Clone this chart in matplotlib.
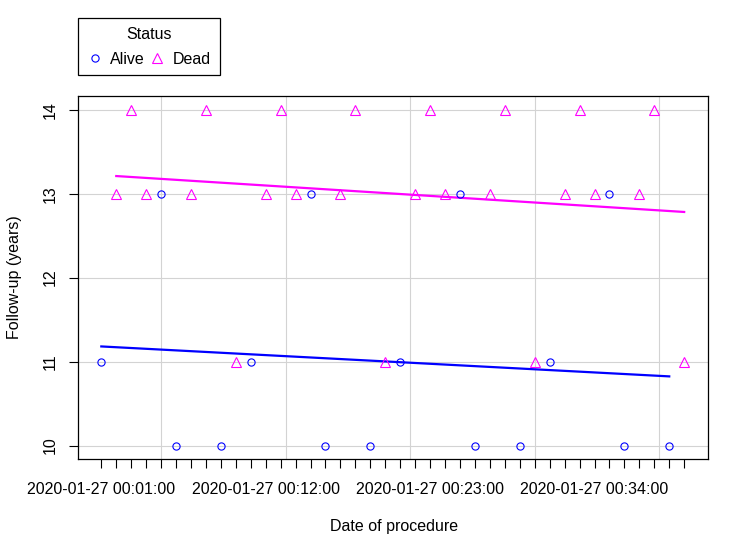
import numpy as np
import pandas as pd
import matplotlib
matplotlib.use('Agg')
from matplotlib import pyplot as plt
from matplotlib.lines import Line2D

plt.rcParams['font.family'] = ['Liberation Sans', 'DejaVu Sans']

# one procedure per minute
proc_time = pd.date_range('2020-01-27 00:01:00', periods=40, freq='min')

followup = [11, 13, 14, 13, 13, 10, 13, 14, 10, 11,
            11, 13, 14, 13, 13, 10, 13, 14, 10, 11,
            11, 13, 14, 13, 13, 10, 13, 14, 10, 11,
            11, 13, 14, 13, 13, 10, 13, 14, 10, 11]  # years

status = ['Alive', 'Dead', 'Dead', 'Dead', 'Alive', 'Alive', 'Dead', 'Dead', 'Alive', 'Dead',
          'Alive', 'Dead', 'Dead', 'Dead', 'Alive', 'Alive', 'Dead', 'Dead', 'Alive', 'Dead',
          'Alive', 'Dead', 'Dead', 'Dead', 'Alive', 'Alive', 'Dead', 'Dead', 'Alive', 'Dead',
          'Alive', 'Dead', 'Dead', 'Dead', 'Alive', 'Alive', 'Dead', 'Dead', 'Alive', 'Dead']

label_idx = [0, 11, 22, 33]          # which ticks get a date label
grid_sec = [300, 800, 1300, 1800, 2300]  # pretty() grid positions, seconds after midnight

df = pd.DataFrame({'time': proc_time, 'fu': followup, 'status': status})
# minutes after midnight, numeric x
df['x'] = (df['time'] - df['time'].dt.normalize()).dt.total_seconds() / 60.

cols = {'Alive': '#0000FF', 'Dead': '#FF00FF'}
marks = {'Alive': 'o', 'Dead': '^'}
msize = {'Alive': 5.2, 'Dead': 7.2}

fig = plt.figure(figsize=(7.48, 5.57), dpi=100)
ax = fig.add_axes([78/748., 1 - 459/557., 629.5/748., 362.7/557.])

for g in [10, 11, 12, 13, 14]:
    ax.axhline(g, color='#D3D3D3', lw=0.8, zorder=0)
for s in grid_sec:
    ax.axvline(s/60., color='#D3D3D3', lw=0.8, zorder=0)

for st in ['Alive', 'Dead']:
    sub = df[df['status'] == st]
    ax.plot(sub['x'], sub['fu'], linestyle='none', marker=marks[st], ms=msize[st],
            mfc='none', mec=cols[st], mew=0.8, zorder=3)
    #linear fit by group
    b, a = np.polyfit(sub['x'], sub['fu'], 1)
    xx = np.array([sub['x'].min(), sub['x'].max()])
    ax.plot(xx, a + b*xx, color=cols[st], lw=1.6, zorder=2)

xr = df['x'].max() - df['x'].min()
ax.set_xlim(df['x'].min() - 0.04*xr, df['x'].max() + 0.04*xr)
ax.set_ylim(10 - 0.16, 14 + 0.16)

ax.set_xticks(df['x'])
labs = ['' for i in range(len(df))]
for i in label_idx:
    labs[i] = df['time'][i].strftime('%Y-%m-%d %H:%M:%S')
ax.set_xticklabels(labs, fontsize=11.5)
ax.set_yticks([10, 11, 12, 13, 14])
ax.set_yticklabels(['10', '11', '12', '13', '14'], fontsize=11.5, rotation=90, va='center')
ax.tick_params(axis='x', length=6.5, width=0.8, pad=10)
ax.tick_params(axis='y', length=6.5, width=0.8, pad=8)
for sp in ax.spines.values():
    sp.set_linewidth(0.9)

fig.text(394/748., 1 - 527/557., 'Date of procedure', ha='center', va='center', fontsize=11.5)
fig.text(15/748., 1 - 277.6/557., 'Follow-up (years)', ha='center', va='center',
         rotation=90, fontsize=11.5)

handles = [Line2D([], [], linestyle='none', marker=marks[s], ms=msize[s], mfc='none',
                  mec=cols[s], mew=0.8) for s in ['Alive', 'Dead']]
leg = fig.legend(handles, ['Alive', 'Dead'], title='Status', ncol=2, loc='upper left',
                 bbox_to_anchor=(78/748., 1 - 18/557.), fontsize=11.5, title_fontsize=11.5,
                 fancybox=False, edgecolor='black', framealpha=1, borderpad=0.55,
                 handlelength=1.0, handletextpad=0.45, columnspacing=0.3, borderaxespad=0)
leg.get_frame().set_linewidth(0.9)
leg._legend_box.sep = 7

fig.savefig('out.png', dpi=100)
